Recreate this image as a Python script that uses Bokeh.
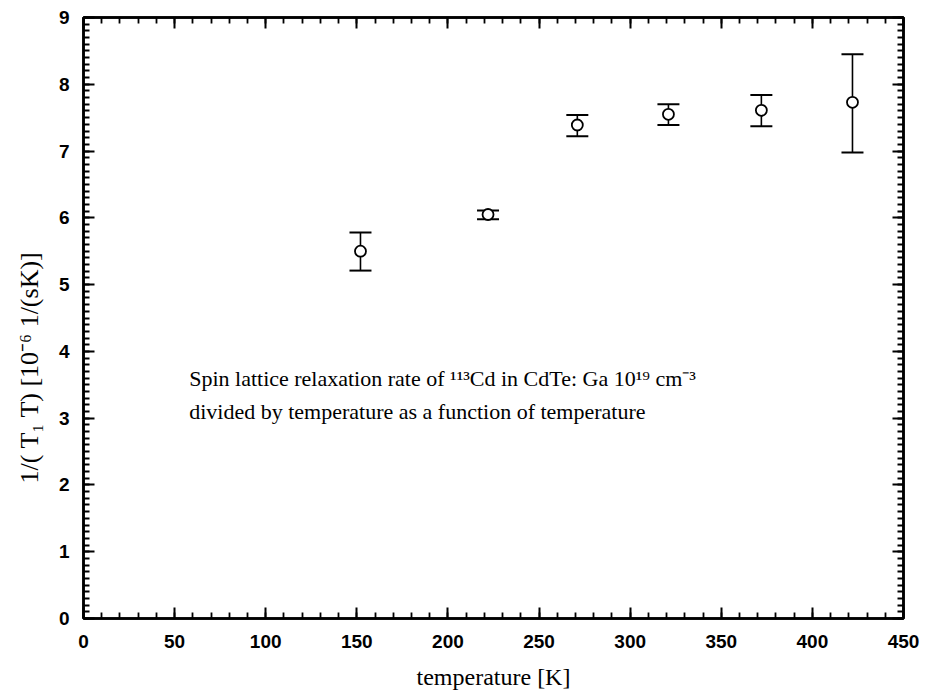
from bokeh.plotting import figure
from bokeh.models import (Range1d, LinearAxis, Whisker, TeeHead, ColumnDataSource,
                          Title, FixedTicker, CustomJSTickFormatter)
from bokeh.core.properties import value
from bokeh.embed import file_html
from bokeh.resources import INLINE

# data
temperature = [152, 222, 271, 321, 372, 422]
rate = [5.50, 6.05, 7.39, 7.55, 7.61, 7.73]
rate_low = [5.21, 5.98, 7.22, 7.39, 7.37, 6.98]
rate_high = [5.78, 6.11, 7.54, 7.70, 7.84, 8.45]

x_ticks = [0, 50, 100, 150, 200, 250, 300, 350, 400, 450]
y_ticks = [0, 1, 2, 3, 4, 5, 6, 7, 8, 9]

note_lines = ["Spin lattice relaxation rate of  \u00b9\u00b9\u00b3Cd in CdTe: Ga 10\u00b9\u2079 cm\u207b\u00b3",
              "divided by temperature as a function of temperature"]
note_x = [58, 58]
note_y = [3.6, 3.1]

x_label = "temperature [K]"
y_label = "1/( T\u2081 T) [10\u207b\u2076 1/(sK)]"

p = figure(width=925, height=694, output_backend="svg", toolbar_location=None,
           x_range=Range1d(0, 450), y_range=Range1d(0, 9),
           min_border_left=83, min_border_right=22, min_border_top=17, min_border_bottom=76,
           x_axis_type=None, y_axis_type=None)
p.background_fill_color = "white"
p.border_fill_color = "white"
p.grid.visible = False
p.outline_line_color = "black"
p.outline_line_width = 2.5

tick_font = "Liberation Sans"
serif = "Liberation Serif"

def style_axis(ax, ticks, minor, standoff, labels=True):
    ax.ticker = FixedTicker(ticks=ticks, minor_ticks=minor)
    ax.axis_line_width = 2.5
    ax.axis_line_color = "black"
    ax.major_tick_in = 11
    ax.major_tick_out = 0
    ax.minor_tick_in = 6
    ax.minor_tick_out = 0
    ax.major_tick_line_width = 2
    ax.minor_tick_line_width = 1.8
    ax.major_tick_line_color = "black"
    ax.minor_tick_line_color = "black"
    ax.major_label_text_font = tick_font
    ax.major_label_text_font_size = "19px"
    ax.major_label_text_font_style = "bold"
    ax.major_label_text_color = "black"
    ax.major_label_standoff = standoff
    if not labels:
        ax.formatter = CustomJSTickFormatter(code="return ''")
        ax.major_label_standoff = 0

x_minor = [i * 10 for i in range(46)]
y_minor = [i / 10 for i in range(91)]

xb = LinearAxis(axis_label=x_label)
style_axis(xb, x_ticks, x_minor, 16)
xb.axis_label_text_font = serif
xb.axis_label_text_font_style = "normal"
xb.axis_label_text_font_size = "24px"
xb.axis_label_text_color = "black"
xb.axis_label_standoff = 13
p.add_layout(xb, "below")

xt = LinearAxis()
style_axis(xt, x_ticks, x_minor, 0, labels=False)
p.add_layout(xt, "above")

yl = LinearAxis()
style_axis(yl, y_ticks, y_minor, 14)
p.add_layout(yl, "left")

yr = LinearAxis()
style_axis(yr, y_ticks, y_minor, 0, labels=False)
p.add_layout(yr, "right")

ytitle = Title(text=y_label, align="left", offset=135, standoff=23,
               text_font=serif, text_font_size="26px", text_font_style="normal",
               text_color="black")
p.add_layout(ytitle, "left")

src = ColumnDataSource(dict(x=temperature, y=rate, lo=rate_low, hi=rate_high))
w = Whisker(source=src, base="x", upper="hi", lower="lo", line_width=1.6, line_color="black",
            upper_head=TeeHead(size=22, line_width=2, line_color="black"),
            lower_head=TeeHead(size=22, line_width=2, line_color="black"))
p.add_layout(w)
p.scatter(x="x", y="y", source=src, marker="circle", size=11, fill_color="white",
          line_color="black", line_width=1.8)

p.text(x=note_x, y=note_y, text=note_lines, text_font=value(serif), text_font_size="22px",
       text_color="black", text_baseline="alphabetic", text_align="left")

open("out.html", "w").write(file_html(p, INLINE))
